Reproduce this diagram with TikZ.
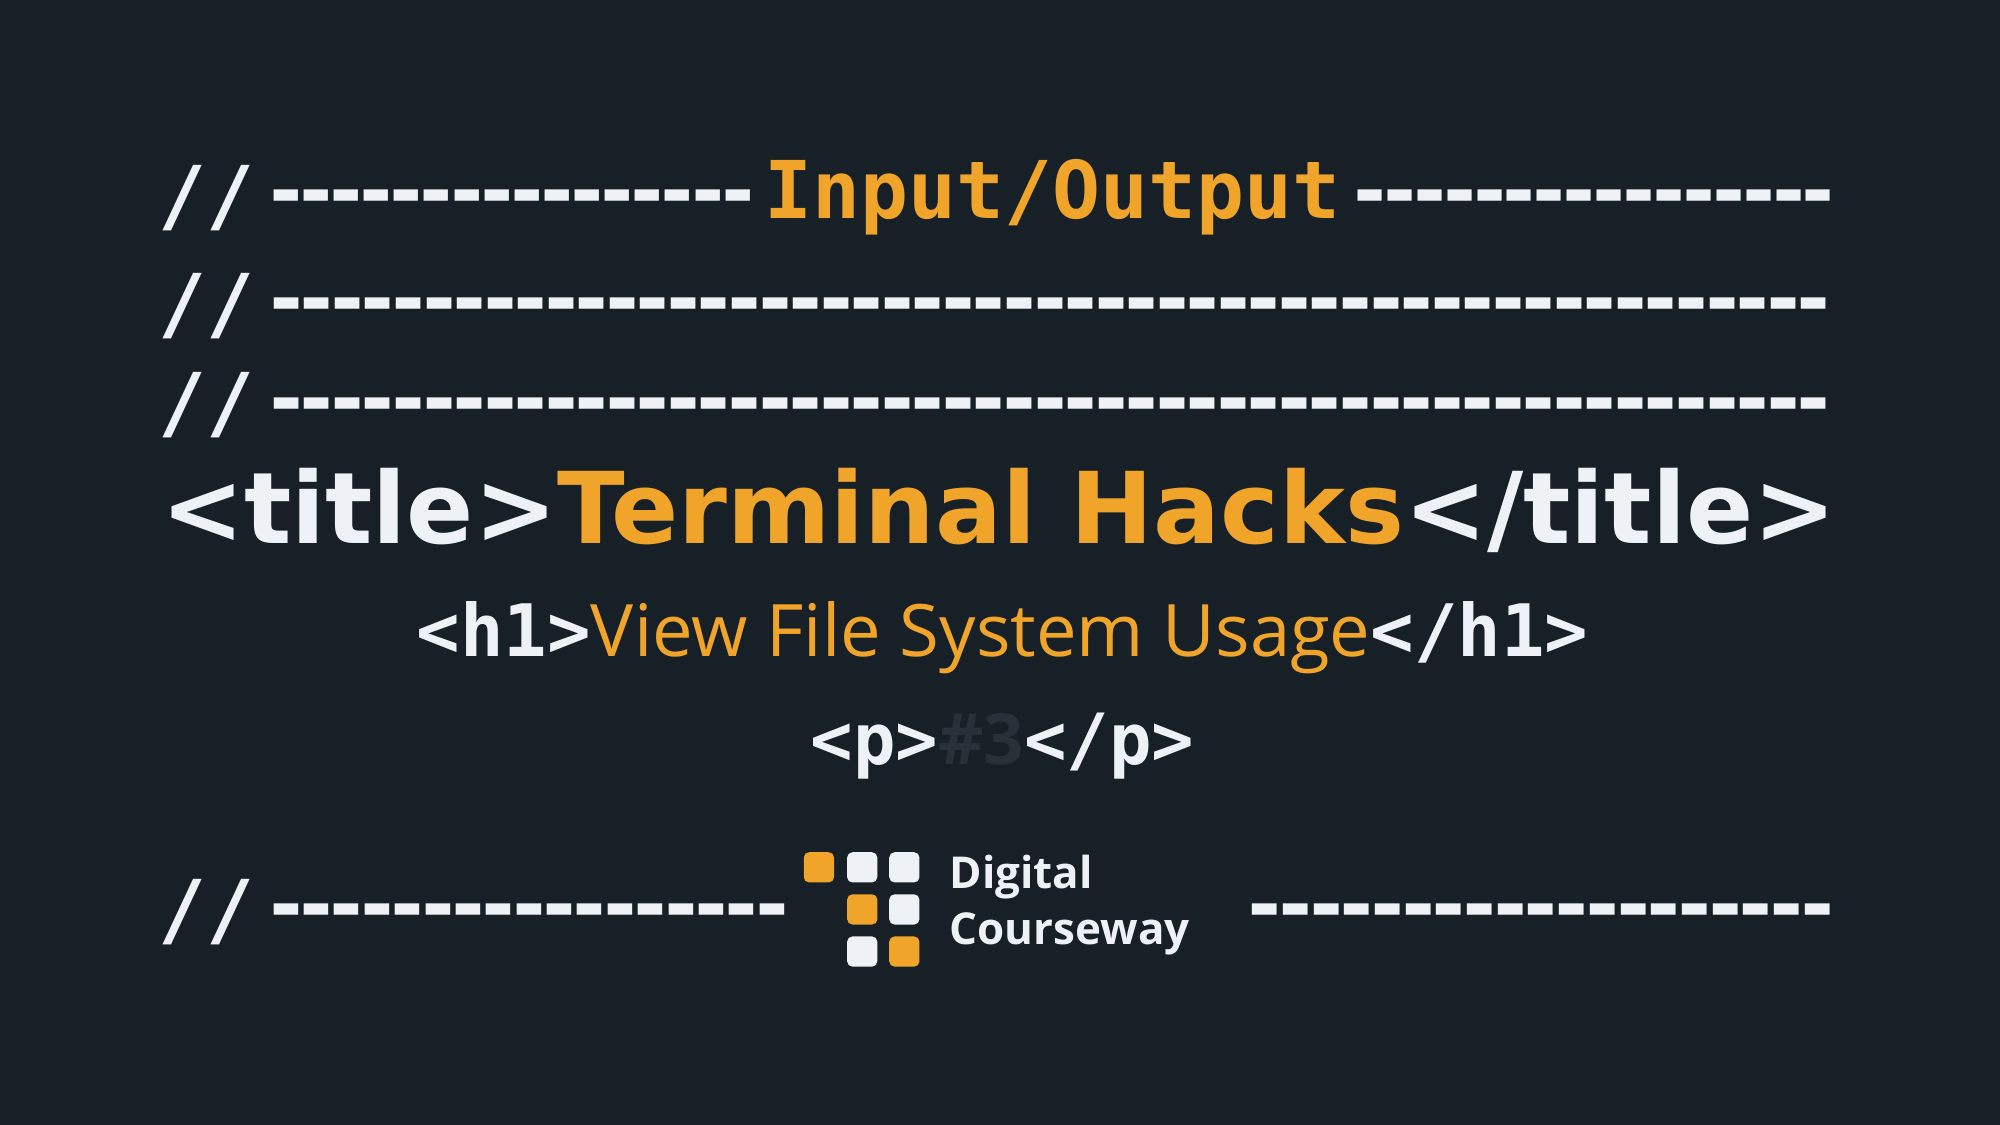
\documentclass[tikz,border=0pt]{standalone}
\usepackage{fontspec}
\setmainfont{DejaVu Sans}
\setmonofont{DejaVu Sans Mono}
\newfontfamily\opensans{Open Sans}
\newfontfamily\dashfont[LetterSpace=-22]{DejaVu Sans Mono Bold}
\usetikzlibrary{positioning}
\definecolor{bgdark}{HTML}{171F27}
\definecolor{hackorange}{HTML}{F0A52A}
\definecolor{codewhite}{HTML}{EEF1F5}
\definecolor{dimgray}{HTML}{283039}
\tikzset{
  code/.style={font=\ttfamily\bfseries\fontsize{22.7}{24}\selectfont,text=codewhite,inner sep=0pt},
  rule/.style={font=\dashfont\fontsize{22.7}{24}\selectfont,text=codewhite,inner sep=0pt},
  hi/.style={text=hackorange},
  tile/.style={fill=#1,rounded corners=1.5pt,minimum size=8.6pt,inner sep=0pt}
}
\newcommand{\pxw}[1]{\dimexpr 0.3616pt*#1\relax}
\newcommand{\dashrun}[2]{\resizebox{\pxw{#1}}{\height}{\foreach \k in {1,...,#2}{-}}}
\begin{document}
\begin{tikzpicture}[x=0.012755cm,y=-0.012755cm]
  % background
  \fill[bgdark] (0,0) rectangle (1568,882);
  \useasboundingbox (0,0) rectangle (1568,882);

  % comment lines
  \node[code,anchor=west] (s1) at (124,155) {//};
  \node[rule,anchor=west] (d1) at (205,160) {\dashrun{393}{16}};
  \node[code,hi,anchor=west] (io) at (599,155) {\resizebox{\pxw{453}}{!}{Input/Output}};
  \node[rule,anchor=west] (d2) at (1055,160) {\dashrun{390}{16}};

  \node[code,anchor=west] (s2) at (124,240) {//};
  \node[rule,anchor=west] (d3) at (205,245) {\dashrun{1240}{51}};
  \node[code,anchor=west] (s3) at (124,318) {//};
  \node[rule,anchor=west] (d4) at (205,323) {\dashrun{1240}{51}};

  % title
  \node[inner sep=0pt,text=codewhite,font=\bfseries] (title) at (783,400)
    {\resizebox{\pxw{1318}}{!}{<title>\textcolor{hackorange}{Terminal Hacks}</title>}};

  % heading
  \node[inner sep=0pt] (head) at (786,500)
    {\resizebox{\pxw{922}}{!}{\ttfamily\bfseries\textcolor{codewhite}{<h1>}\textcolor{hackorange}{\opensans\mdseries View File System Usage}\textcolor{codewhite}{</h1>}}};

  % paragraph
  \node[inner sep=0pt] (para) at (786,585)
    {\resizebox{\pxw{302}}{!}{\ttfamily\bfseries\textcolor{codewhite}{<p>}\textcolor{dimgray}{\opensans\#3}\textcolor{codewhite}{</p>}}};

  % bottom line and logo
  \node[code,anchor=west] (s4) at (124,715) {//};
  \node[rule,anchor=west] (d5) at (205,720) {\dashrun{420}{17}};
  \node[rule,anchor=west] (d6) at (972,720) {\dashrun{473}{19}};

  \node[tile=hackorange] (t11) at (642,680) {};
  \node[tile=codewhite]  (t12) at (676,680) {};
  \node[tile=codewhite]  (t13) at (709,680) {};
  \node[tile=hackorange] (t22) at (676,713) {};
  \node[tile=codewhite]  (t23) at (709,713) {};
  \node[tile=codewhite]  (t32) at (676,746) {};
  \node[tile=hackorange] (t33) at (709,746) {};

  \node[anchor=west,inner sep=0pt,text=codewhite,font=\opensans\bfseries\fontsize{12.5}{14}\selectfont] (brand1) at (744,688) {Digital};
  \node[anchor=west,inner sep=0pt,text=codewhite,font=\opensans\bfseries\fontsize{12.5}{14}\selectfont] (brand2) at (744,732) {Courseway};
\end{tikzpicture}
\end{document}
